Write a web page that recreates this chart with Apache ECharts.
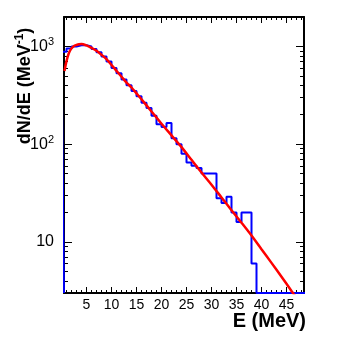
<!DOCTYPE html>
<html>
<head>
<meta charset="utf-8">
<script src="https://cdn.jsdelivr.net/npm/echarts@6/dist/echarts.min.js"></script>
<style>
  * { margin: 0; padding: 0; }
  body { background: #fff; }
  #chart { width: 357px; height: 345px; }
</style>
</head>
<body>
<div id="chart"></div>
<script>
// histogram, 1 MeV bins, lower edges 0..48
const binLow = [0, 1, 2, 3, 4, 5, 6, 7, 8, 9, 10, 11, 12, 13, 14, 15, 16, 17, 18, 19,
  20, 21, 22, 23, 24, 25, 26, 27, 28, 29, 30, 31, 32, 33, 34, 35, 36, 37, 38, 39,
  40, 41, 42, 43, 44, 45, 46, 47, 48];
const binCounts = [880, 950, 1000, 1030, 1030, 1000, 940, 870, 790, 700, 600, 530, 460, 400, 350, 310, 265, 235, 195, 160,
  150, 165, 115, 100, 80, 65, 60, 57, 50, 50, 50, 28, 25, 29, 20, 16, 20, 20, 6, 0,
  0, 0, 0, 0, 0, 0, 0, 0, 0];

// fitted curve (red)
const fitE = [0.6, 1, 1.5, 2, 2.5, 3, 3.5, 4, 5, 6, 7, 8, 9, 10, 11, 12, 13, 14, 15, 16,
  18, 20, 22, 24, 26, 28, 30, 32, 34, 36, 38, 40, 42, 44, 46, 47.5];
const fitVal = [560, 708, 861, 955, 1012, 1035, 1052, 1059, 1023, 966, 902, 822, 741, 646, 562, 490, 427, 380, 331, 288,
  216, 162, 123, 93.3, 69.2, 51.3, 38.5, 28.5, 21.1, 15.7, 11.6, 8.4, 6.1, 4.4, 3.15, 2.46];

const xMajor = [5, 10, 15, 20, 25, 30, 35, 40, 45];
const xMinor = [1, 2, 3, 4, 6, 7, 8, 9, 11, 12, 13, 14, 16, 17, 18, 19, 21, 22, 23, 24, 26, 27, 28, 29,
  31, 32, 33, 34, 36, 37, 38, 39, 41, 42, 43, 44, 46, 47, 48];
const yMajor = [10, 100, 1000];
const yMinor = [3, 4, 5, 6, 7, 8, 9, 20, 30, 40, 50, 60, 70, 80, 90, 200, 300, 400, 500, 600, 700, 800, 900, 2000];

const X_MIN = 0.5, X_MAX = 48.5;
const Y_MIN = 3, Y_MAX = 2000;
const FONT = "Liberation Sans, Arial, sans-serif";

// step outline of the histogram, empty bins sit on the floor like in ROOT
let histLine = [[X_MIN, Y_MIN]];
binLow.forEach((lo, i) => {
  let v = binCounts[i] > 0 ? binCounts[i] : Y_MIN;
  histLine.push([lo, v]);
  histLine.push([lo + 1, v]);
});
let fitLine = fitE.map((e, i) => [e, fitVal[i]]);

function xAxisDef(pos, ticks, len, labels, showLine) {
  return {
    type: "value", position: pos, min: X_MIN, max: X_MAX,
    axisLine: { show: showLine, onZero: false, lineStyle: { color: "#000", width: 2 } },
    splitLine: { show: false },
    axisTick: { show: true, inside: true, length: len, customValues: ticks, lineStyle: { color: "#000", width: 1 } },
    axisLabel: labels ? { show: true, customValues: ticks, margin: 5, color: "#000", fontSize: 14, fontFamily: FONT } : { show: false }
  };
}
function yAxisDef(pos, ticks, len, labels, showLine) {
  return {
    type: "log", logBase: 10, position: pos, min: Y_MIN, max: Y_MAX,
    axisLine: { show: showLine, onZero: false, lineStyle: { color: "#000", width: 2 } },
    splitLine: { show: false },
    axisTick: { show: true, inside: true, length: len, customValues: ticks, lineStyle: { color: "#000", width: 1 } },
    axisLabel: labels ? {
      show: true, customValues: ticks, margin: 10, color: "#000", fontSize: 16, fontFamily: FONT,
      formatter: v => {
        let p = Math.round(Math.log10(v));
        return p === 1 ? "10" : "10{s|" + p + "}";
      },
      rich: { s: { fontSize: 11, fontFamily: FONT, color: "#000", padding: [0, 0, 9, 0] } }
    } : { show: false }
  };
}

let chart = echarts.init(document.getElementById("chart"), null, { renderer: "canvas" });
chart.setOption({
  animation: false,
  grid: { left: 64, right: 53, top: 17, bottom: 52, show: false },
  xAxis: [
    xAxisDef("bottom", xMajor, 6, true, true),
    xAxisDef("bottom", xMinor, 3, false, false),
    xAxisDef("top", xMajor, 6, false, true),
    xAxisDef("top", xMinor, 3, false, false)
  ],
  yAxis: [
    yAxisDef("left", yMajor, 8, true, true),
    yAxisDef("left", yMinor, 4, false, false),
    yAxisDef("right", yMajor, 8, false, true),
    yAxisDef("right", yMinor, 4, false, false)
  ],
  graphic: [
    {
      type: "text", x: 25, y: 86, rotation: Math.PI / 2,
      style: {
        text: "{m|dN/dE (MeV}{s|-1}{m|)}",
        align: "center", verticalAlign: "middle",
        rich: {
          m: { fontSize: 18, fontWeight: "bold", fontFamily: FONT, fill: "#000" },
          s: { fontSize: 12, fontWeight: "bold", fontFamily: FONT, fill: "#000", padding: [0, 0, 10, 0] }
        }
      }
    },
    {
      type: "text", right: 51, top: 311,
      style: { text: "E (MeV)", fontSize: 20, fontWeight: "bold", fontFamily: FONT, fill: "#000" }
    }
  ],
  series: [
    {
      name: "hist", type: "line", xAxisIndex: 0, yAxisIndex: 0,
      data: histLine, showSymbol: false, symbol: "none",
      lineStyle: { color: "#0000ff", width: 2 }, z: 2
    },
    {
      name: "fit", type: "line", xAxisIndex: 0, yAxisIndex: 0,
      data: fitLine, smooth: 0.3, showSymbol: false, symbol: "none",
      lineStyle: { color: "#ff0000", width: 2.5 }, z: 3
    }
  ]
});
</script>
</body>
</html>
